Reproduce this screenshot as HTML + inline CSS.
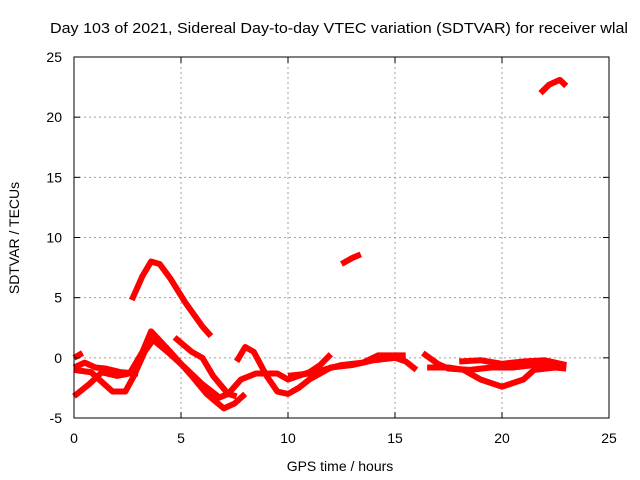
<!DOCTYPE html>
<html><head><meta charset="utf-8"><style>
body{margin:0;background:#fff}
svg{display:block;font-family:"Liberation Sans",sans-serif}
</style></head><body>
<svg id="c" width="640" height="480">
<text x="50" y="33" font-size="15" textLength="578" lengthAdjust="spacingAndGlyphs">Day 103 of 2021, Sidereal Day-to-day VTEC variation (SDTVAR) for receiver wlal</text>
<text x="340" y="471" font-size="14" text-anchor="middle">GPS time / hours</text>
<text x="19" y="238" font-size="14" text-anchor="middle" transform="rotate(-90 19 238)">SDTVAR / TECUs</text>
<g id="grid"></g><g id="marks"></g>
<rect x="74" y="57" width="535" height="361" fill="none" stroke="#000"/>
<g id="ticks"></g>
</svg>
<script>
const xTicks=[0,5,10,15,20,25];
const yTicks=[-5,0,5,10,15,20,25];
const seriesUpper=[[2.7,4.8],[3.2,6.8],[3.6,8.0],[4.0,7.8],[4.5,6.6],[5.2,4.6],[6.0,2.6],[6.4,1.8]];
const seriesA=[[0,-3.2],[0.7,-2.2],[1.3,-1.2],[2.0,-1.5],[2.6,-1.3],[3.2,0.5],[3.6,2.2],[4.5,0.5],[5.5,-1.5],[6.2,-3.0],[7.0,-4.2],[7.5,-3.8],[8.0,-3.0]];
const seriesB=[[0,-1.0],[0.8,-1.2],[1.3,-2.0],[1.8,-2.8],[2.4,-2.8],[2.8,-1.5],[3.3,0.5],[3.7,1.5],[4.5,0.3],[5.3,-1.0],[6.0,-2.2],[6.8,-3.3],[7.2,-3.0],[7.8,-1.8],[8.5,-1.3],[9.5,-1.3],[10.0,-1.8],[11.0,-1.2],[11.5,-0.6],[12.0,0.3]];
const seriesC=[[0,-0.8],[0.5,-0.4],[1.0,-0.8],[1.5,-0.9],[2.2,-1.2],[3.0,-1.3]];
const seriesD=[[0,0],[0.4,0.4]];
const seriesE=[[4.7,1.7],[5.5,0.5],[6.0,0.0],[6.5,-1.5],[7.2,-3.0],[7.6,-3.2]];
const seriesF=[[7.6,-0.3],[8.0,0.9],[8.4,0.5],[9.0,-1.5],[9.5,-2.8],[10.0,-3.0],[10.5,-2.5],[11.0,-1.8],[12.0,-0.8],[13.0,-0.6],[14.0,-0.2],[15.0,0.0],[15.5,-0.3],[16.0,-1.0]];
const seriesG=[[10.0,-1.5],[11.0,-1.3],[12.5,-0.6],[13.5,-0.4],[14.2,0.2],[15.5,0.2]];
const seriesH=[[16.3,0.4],[17.0,-0.5],[17.5,-0.9],[18.5,-1.0],[19.5,-0.8],[20.5,-0.8],[21.5,-0.6],[22.5,-0.5],[23.0,-0.7]];
const seriesI=[[16.5,-0.8],[17.5,-0.8],[18.2,-1.0],[19.0,-1.8],[20.0,-2.4],[21.0,-1.8],[21.5,-1.0],[22.5,-0.8],[23.0,-0.9]];
const seriesJ=[[18.0,-0.3],[19.0,-0.2],[20.0,-0.5],[21.0,-0.3],[22.0,-0.2],[23.0,-0.6]];
const seriesK=[[12.5,7.8],[13.0,8.3],[13.4,8.6]];
const seriesL=[[21.8,22.0],[22.2,22.7],[22.7,23.1],[23.0,22.6]];
const allSeries=[seriesUpper,seriesA,seriesB,seriesC,seriesD,seriesE,seriesF,seriesG,seriesH,seriesI,seriesJ,seriesK,seriesL];
const X=v=>74+v*535/25, Y=v=>418-(v+5)*361/30;
const NS='http://www.w3.org/2000/svg';
const grid=document.getElementById('grid'),ticks=document.getElementById('ticks'),marks=document.getElementById('marks');
function mk(tag,at,p){const e=document.createElementNS(NS,tag);for(const k in at)e.setAttribute(k,at[k]);p.appendChild(e);return e;}
xTicks.forEach(t=>{const x=X(t);
 if(t>0&&t<25){const g=mk('line',{x1:x,x2:x,y1:57,y2:418,stroke:'#a0a0a0','stroke-dasharray':'2,3'},grid);
 
 }
 mk('line',{x1:x,x2:x,y1:418,y2:412,stroke:'#000'},ticks);mk('line',{x1:x,x2:x,y1:57,y2:63,stroke:'#000'},ticks);
 const l=mk('text',{x:x,y:443,'font-size':14,'text-anchor':'middle'},ticks);l.textContent=t;
 
 });
yTicks.forEach(t=>{const y=Y(t);
 if(t>-5&&t<25){const g=mk('line',{x1:74,x2:609,y1:y,y2:y,stroke:'#a0a0a0','stroke-dasharray':'2,3'},grid);
 
 }
 mk('line',{x1:74,x2:80,y1:y,y2:y,stroke:'#000'},ticks);mk('line',{x1:609,x2:603,y1:y,y2:y,stroke:'#000'},ticks);
 const l=mk('text',{x:62,y:y+5,'font-size':14,'text-anchor':'end'},ticks);l.textContent=t;
 
 });
allSeries.forEach(s=>{const p=mk('polyline',{points:s.map(d=>X(d[0])+','+Y(d[1])).join(' '),fill:'none',stroke:'#ff0000','stroke-width':6,'stroke-linejoin':'round'},marks);
 
 });
</script>
</body></html>
